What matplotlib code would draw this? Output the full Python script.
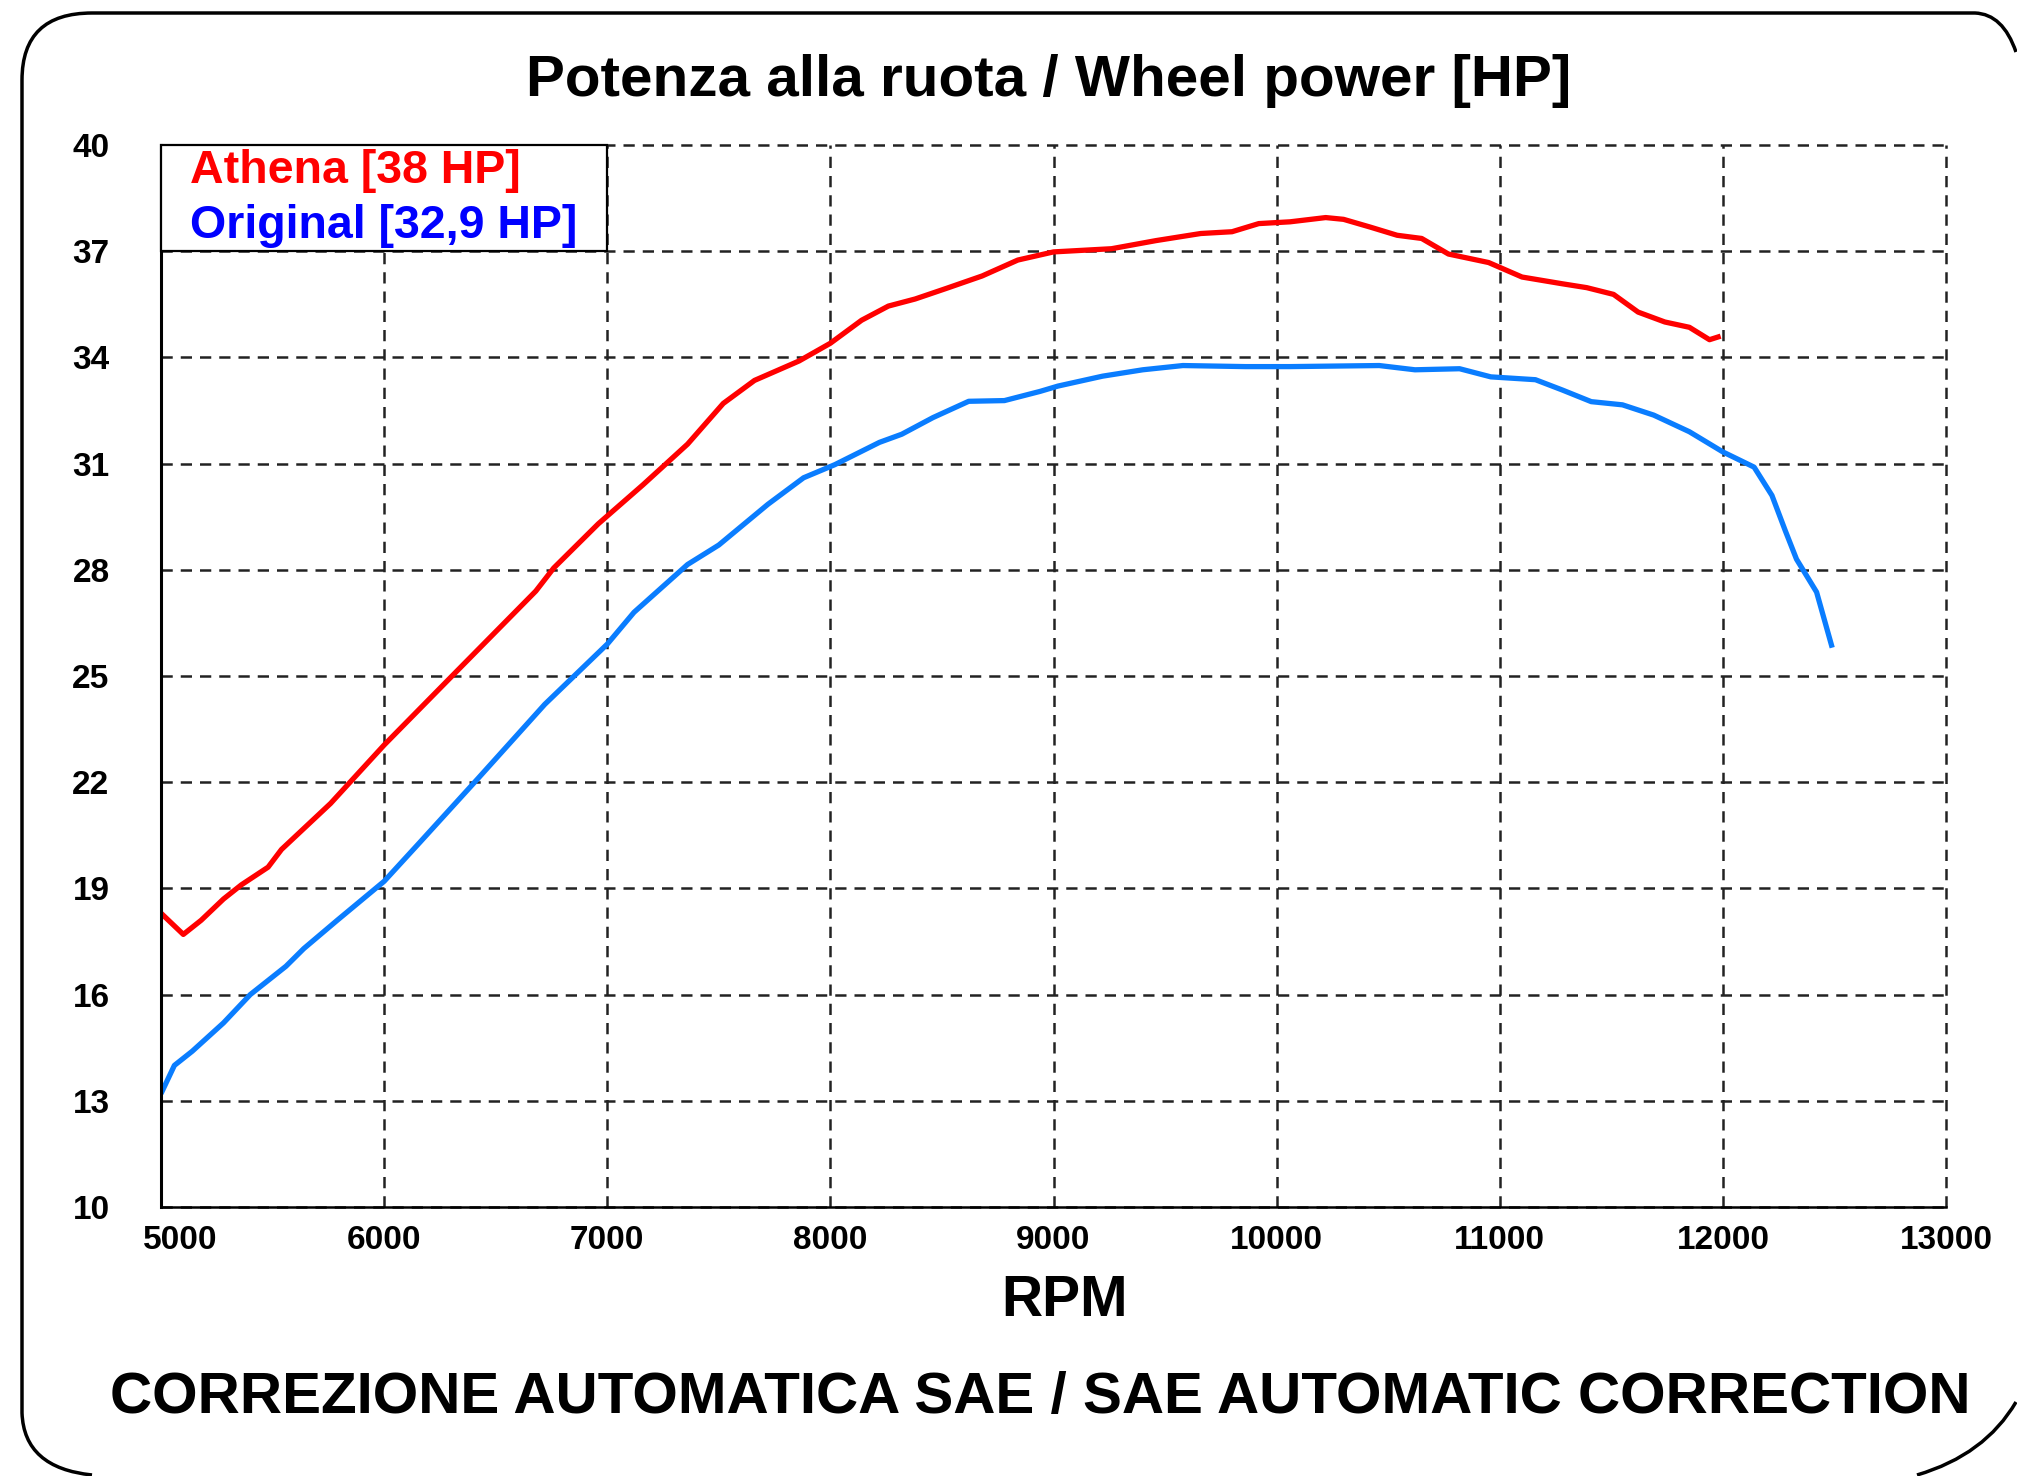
import matplotlib
matplotlib.use("Agg")
import matplotlib.pyplot as plt
import matplotlib.transforms as mtransforms
from matplotlib.patches import Rectangle, PathPatch
from matplotlib.path import Path

plt.rcParams["font.family"] = ["Liberation Sans", "DejaVu Sans"]

# ---- data ----
athena_rpm = [5000, 5050, 5100, 5180, 5280, 5360, 5480, 5540, 5760, 6000,
              6320, 6680, 6760, 6960, 7160, 7360, 7520, 7660, 7860, 8000,
              8140, 8260, 8380, 8520, 8680, 8840, 9000, 9260, 9460, 9660,
              9800, 9920, 10060, 10220, 10300, 10420, 10540, 10650, 10770, 10950,
              11100, 11280, 11390, 11510, 11620, 11740, 11850, 11940, 11990]
athena_hp = [18.3, 18.0, 17.7, 18.1, 18.7, 19.1, 19.6, 20.1, 21.4, 23.05,
             25.1, 27.4, 28.05, 29.3, 30.4, 31.55, 32.7, 33.35, 33.9, 34.4,
             35.05, 35.45, 35.65, 35.95, 36.3, 36.75, 36.98, 37.07, 37.3, 37.5,
             37.55, 37.78, 37.83, 37.95, 37.9, 37.68, 37.45, 37.36, 36.92, 36.68,
             36.27, 36.08, 35.97, 35.78, 35.28, 35.0, 34.85, 34.5, 34.6]

orig_rpm = [5000, 5060, 5140, 5280, 5400, 5560, 5640, 5790, 6000, 6160,
            6420, 6720, 7000, 7120, 7360, 7500, 7720, 7880, 8020, 8220,
            8320, 8460, 8620, 8780, 8940, 9020, 9220, 9400, 9580, 9860,
            10060, 10460, 10620, 10820, 10960, 11160, 11280, 11410, 11550, 11690,
            11850, 12000, 12140, 12220, 12280, 12330, 12420, 12490]
orig_hp = [13.2, 14.0, 14.4, 15.2, 16.0, 16.8, 17.3, 18.1, 19.2, 20.3,
           22.1, 24.2, 25.9, 26.8, 28.15, 28.7, 29.85, 30.6, 30.97, 31.6,
           31.83, 32.3, 32.76, 32.78, 33.04, 33.19, 33.47, 33.65, 33.77, 33.74,
           33.74, 33.77, 33.65, 33.68, 33.45, 33.37, 33.08, 32.75, 32.66, 32.37,
           31.9, 31.33, 30.9, 30.1, 29.1, 28.3, 27.37, 25.8]

x_ticks = [5000, 6000, 7000, 8000, 9000, 10000, 11000, 12000, 13000]
y_ticks = [10, 13, 16, 19, 22, 25, 28, 31, 34, 37, 40]
labels = ["Athena [38 HP]", "Original [32,9 HP]"]

W, H = 2017, 1476
fig = plt.figure(figsize=(W / 100, H / 100), dpi=100)

# rounded outer frame (runs off the right/bottom edge like the scan)
bg = fig.add_axes([0, 0, 1, 1])
bg.set_xlim(0, W)
bg.set_ylim(H, 0)
bg.axis("off")
frame_a = Path(
    [(2016, 52), (2003, 14), (1975, 13), (92, 13), (22, 13), (22, 80),
     (22, 1413), (24, 1468), (92, 1475)],
    [Path.MOVETO, Path.CURVE3, Path.CURVE3, Path.LINETO, Path.CURVE3,
     Path.CURVE3, Path.LINETO, Path.CURVE3, Path.CURVE3])
frame_b = Path([(1917, 1475), (1985, 1455), (2016, 1402)],
               [Path.MOVETO, Path.CURVE3, Path.CURVE3])
for p in (frame_a, frame_b):
    bg.add_patch(PathPatch(p, fill=False, lw=2.5, ec="black"))

ax = fig.add_axes([161 / W, 1 - 1207 / H, (1946 - 161) / W, (1207 - 145) / H])
ax.set_xlim(5000, 13000)
ax.set_ylim(10, 40)
ax.set_xticks(x_ticks)
ax.set_yticks(y_ticks)
ax.tick_params(length=0, labelsize=24)
ax.tick_params(axis="y", pad=37)
ax.tick_params(axis="x", pad=13)
for lab in ax.get_xticklabels() + ax.get_yticklabels():
    lab.set_fontweight("bold")
# first x label sits a little right of its tick in the original
first = ax.xaxis.get_major_ticks()[0].label1
first.set_transform(first.get_transform()
                    + mtransforms.ScaledTranslation(0.19, 0, fig.dpi_scale_trans))
ax.spines["top"].set_visible(False)
ax.spines["right"].set_visible(False)
ax.spines["left"].set_linewidth(2.2)
ax.spines["bottom"].set_linewidth(1.8)
ax.set_axisbelow(True)
ax.grid(True, color="#222222", lw=1.8, linestyle=(0, (4.5, 3.2)))
for gl in ax.get_xgridlines() + ax.get_ygridlines():
    gl.set_clip_on(False)

ax.plot(athena_rpm, athena_hp, color="#ff0000", lw=3.8, solid_capstyle="butt")
ax.plot(orig_rpm, orig_hp, color="#0a7dff", lw=3.8, solid_capstyle="butt")

# legend box
ax.add_patch(Rectangle((5000, 37), 2000, 3, fc="white", ec="black", lw=1.6,
                       zorder=3, clip_on=False))
ax.text(5130, 39.27, labels[0], color="#ff0000", fontsize=33.5,
        fontweight="bold", va="center", ha="left", zorder=4)
ax.text(5130, 37.71, labels[1], color="#0000ff", fontsize=33.5,
        fontweight="bold", va="center", ha="left", zorder=4)

fig.text(1049 / W, 1 - 81 / H, "Potenza alla ruota / Wheel power [HP]",
         fontsize=42, fontweight="bold", ha="center", va="center")
fig.text(1065 / W, 1 - 1301 / H, "RPM", fontsize=41, fontweight="bold",
         ha="center", va="center")
fig.text(1040 / W, 1 - 1398 / H,
         "CORREZIONE AUTOMATICA SAE / SAE AUTOMATIC CORRECTION",
         fontsize=42, fontweight="bold", ha="center", va="center")

fig.savefig("out.png", dpi=100, facecolor="white")
